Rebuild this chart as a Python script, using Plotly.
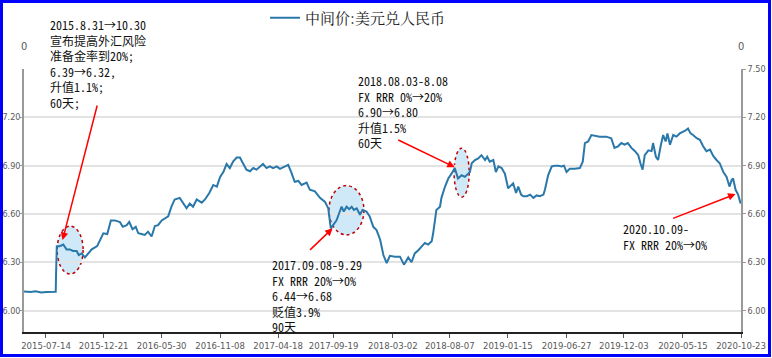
import plotly.graph_objects as go

# ---- data ----
dates = [
"2015-05-14","2015-06-01","2015-06-15","2015-07-01","2015-07-15","2015-08-01","2015-08-10","2015-08-11","2015-08-12","2015-08-13",
"2015-08-21","2015-08-31","2015-09-09","2015-09-18","2015-09-27","2015-10-07","2015-10-13","2015-10-21","2015-10-30","2015-11-08",
"2015-11-18","2015-12-03","2015-12-11","2015-12-20","2015-12-31","2016-01-10","2016-01-21","2016-02-04","2016-02-12","2016-02-23",
"2016-03-01","2016-03-10","2016-03-19","2016-03-26","2016-04-04","2016-04-13","2016-04-22","2016-05-02","2016-05-11","2016-05-20",
"2016-05-30","2016-06-08","2016-06-17","2016-06-26","2016-07-05","2016-07-19","2016-07-30","2016-08-07","2016-08-16","2016-08-25",
"2016-09-04","2016-09-18","2016-09-27","2016-10-09","2016-10-20","2016-10-30","2016-11-08","2016-11-17","2016-11-26","2016-12-05",
"2016-12-14","2016-12-24","2017-01-02","2017-01-11","2017-01-20","2017-01-30","2017-02-08","2017-02-17","2017-02-26","2017-03-07",
"2017-03-17","2017-03-26","2017-04-04","2017-04-14","2017-04-23","2017-05-07","2017-05-16","2017-05-25","2017-06-03","2017-06-13",
"2017-06-22","2017-07-06","2017-07-15","2017-07-29","2017-08-12","2017-08-26","2017-09-04","2017-09-11","2017-09-17","2017-09-27",
"2017-10-06","2017-10-11","2017-10-17","2017-10-25","2017-11-01","2017-11-08","2017-11-14","2017-11-22","2017-12-01","2017-12-08",
"2017-12-19","2017-12-28","2018-01-07","2018-01-16","2018-01-26","2018-02-04","2018-02-13","2018-02-22","2018-03-08","2018-03-22",
"2018-04-02","2018-04-14","2018-04-23","2018-05-02","2018-05-12","2018-05-21","2018-05-30","2018-06-08","2018-06-18","2018-06-22",
"2018-07-01","2018-07-11","2018-07-15","2018-07-25","2018-08-03","2018-08-12","2018-08-21","2018-08-30","2018-09-09","2018-09-18",
"2018-09-27","2018-10-02","2018-10-07","2018-10-16","2018-10-25","2018-11-03","2018-11-13","2018-11-19","2018-11-26","2018-12-06",
"2018-12-13","2018-12-20","2018-12-29","2019-01-07","2019-01-16","2019-01-26","2019-01-30","2019-02-07","2019-02-13","2019-02-21",
"2019-02-27","2019-03-09","2019-03-18","2019-03-27","2019-04-05","2019-04-14","2019-04-24","2019-04-28","2019-05-07","2019-05-17",
"2019-05-26","2019-06-04","2019-06-13","2019-06-20","2019-06-27","2019-07-06","2019-07-20","2019-08-03","2019-08-11","2019-08-17",
"2019-08-26","2019-09-04","2019-09-13","2019-09-27","2019-10-15","2019-10-29","2019-11-07","2019-11-17","2019-11-26","2019-12-05",
"2019-12-14","2019-12-24","2020-01-03","2020-01-12","2020-01-18","2020-01-24","2020-01-30","2020-02-09","2020-02-18","2020-02-22",
"2020-03-01","2020-03-07","2020-03-14","2020-03-21","2020-03-28","2020-04-02","2020-04-09","2020-04-18","2020-04-27","2020-05-06",
"2020-05-20","2020-05-29","2020-06-05","2020-06-12","2020-06-22","2020-07-01","2020-07-10","2020-07-19","2020-07-29","2020-08-07",
"2020-08-16","2020-08-25","2020-09-04","2020-09-13","2020-09-21","2020-09-27","2020-10-01","2020-10-08","2020-10-15","2020-10-22",
]
usdcny = [
6.118,6.115,6.120,6.112,6.116,6.115,6.117,6.230,6.330,6.400,
6.400,6.410,6.380,6.380,6.370,6.370,6.345,6.355,6.330,6.355,
6.380,6.400,6.440,6.480,6.475,6.560,6.560,6.550,6.520,6.530,
6.550,6.505,6.520,6.480,6.475,6.470,6.490,6.460,6.525,6.530,
6.560,6.570,6.585,6.645,6.690,6.700,6.665,6.635,6.665,6.645,
6.690,6.670,6.690,6.730,6.780,6.770,6.830,6.860,6.910,6.885,
6.925,6.950,6.950,6.915,6.875,6.865,6.885,6.875,6.895,6.910,
6.885,6.895,6.885,6.895,6.880,6.895,6.905,6.855,6.800,6.805,
6.780,6.795,6.750,6.740,6.700,6.675,6.635,6.510,6.530,6.560,
6.615,6.645,6.615,6.645,6.630,6.645,6.625,6.635,6.595,6.625,
6.615,6.585,6.520,6.500,6.440,6.345,6.295,6.340,6.335,6.335,
6.285,6.330,6.300,6.355,6.375,6.395,6.420,6.410,6.430,6.480,
6.625,6.645,6.700,6.770,6.820,6.850,6.885,6.820,6.840,6.830,
6.850,6.860,6.915,6.935,6.945,6.965,6.935,6.955,6.925,6.935,
6.860,6.895,6.885,6.850,6.760,6.780,6.790,6.730,6.770,6.720,
6.710,6.710,6.720,6.700,6.715,6.710,6.720,6.750,6.840,6.895,
6.900,6.900,6.895,6.900,6.860,6.880,6.880,6.885,6.925,7.040,
7.050,7.090,7.085,7.080,7.080,7.070,7.010,7.020,7.040,7.030,
7.040,7.010,6.990,6.965,6.915,6.875,6.965,6.995,6.990,7.040,
6.955,6.935,7.020,7.090,7.050,7.100,7.030,7.090,7.080,7.100,
7.115,7.130,7.100,7.090,7.070,7.060,7.020,6.990,7.000,6.960,
6.935,6.915,6.860,6.830,6.770,6.810,6.820,6.750,6.720,6.665,
]
series_name = "中间价:美元兑人民币"
x_ticks = ["2015-07-14","2015-12-21","2016-05-30","2016-11-08","2017-04-18","2017-09-19",
           "2018-03-02","2018-08-07","2019-01-15","2019-06-27","2019-12-03","2020-05-15","2020-10-23"]
y_ticks_left = [6.00, 6.30, 6.60, 6.90, 7.20]
y_ticks_right = [6.00, 6.30, 6.60, 6.90, 7.20, 7.50]

note1 = ["2015.8.31→10.30", "宣布提高外汇风险", "准备金率到20%;", "6.39→6.32,", "升值1.1%;", "60天;"]
note2 = ["2018.08.03-8.08", "FX RRR 0%→20%", "6.90→6.80", "升值1.5%", "60天"]
note3 = ["2017.09.08-9.29", "FX RRR 20%→0%", "6.44→6.68", "贬值3.9%", "90天"]
note4 = ["2020.10.09-", "FX RRR 20%→0%"]

# ---- figure ----
W, H = 772, 358
L, R, T, B = 24, 31, 69, 26
pw, ph = W - L - R, H - T - B
def px(x):
    return (x - L) / pw
def py(y):
    return (H - B - y) / ph

LINE = "#2a78aa"
AXFONT = dict(family="Liberation Sans Narrow, DejaVu Sans Condensed, Liberation Sans, sans-serif", size=9.5, color="#595959")
YFONT = dict(family=AXFONT["family"], size=9, color="#595959")
NOTEFONT = dict(family="Noto Sans Mono CJK SC, Noto Sans CJK SC, monospace", size=12, color="#111111")
YR = [5.867, 7.50]

fig = go.Figure()
fig.add_trace(go.Scatter(x=dates, y=usdcny, mode="lines", name=series_name,
                         line=dict(color=LINE, width=2), yaxis="y"))
fig.add_trace(go.Scatter(x=dates, y=usdcny, mode="lines", showlegend=False, hoverinfo="skip",
                         line=dict(color="rgba(0,0,0,0)", width=0), yaxis="y2"))

shapes = []
# highlight ellipses
for x0, x1, y0, y1 in [("2015-08-14", "2015-10-25", 6.227, 6.525),
                       ("2017-09-06", "2017-12-12", 6.470, 6.776),
                       ("2018-08-19", "2018-09-30", 6.704, 7.008)]:
    shapes.append(dict(type="circle", xref="x", yref="y", x0=x0, x1=x1, y0=y0, y1=y1,
                       fillcolor="#cfe9f9", line=dict(color="#c00000", width=1.5, dash="dot"),
                       layer="below"))
# blue frame
shapes.append(dict(type="rect", xref="paper", yref="paper",
                   x0=px(1.5), x1=px(769.5), y0=py(355.5), y1=py(1.5),
                   line=dict(color="#0000ff", width=3), fillcolor="rgba(0,0,0,0)", layer="above"))

ann = []
def note(lines, xpix, ytop):
    ann.append(dict(xref="paper", yref="paper", x=px(xpix), y=py(ytop), xanchor="left", yanchor="top",
                    text="<br>".join(lines), showarrow=False, align="left", font=NOTEFONT))
note(note1, 48, 14)
note(note2, 356, 70)
note(note3, 270, 254)
note(note4, 621, 218)

def arrow(xh, yh, ax, ay):
    ann.append(dict(xref="x", yref="y", x=xh, y=yh, ax=ax, ay=ay, text="", showarrow=True,
                    arrowhead=2, arrowsize=1, arrowwidth=1.5, arrowcolor="#ff0000"))
arrow("2015-08-29", 6.438, 35, -136)
arrow("2017-09-16", 6.511, -24, 23)
arrow("2018-08-21", 6.890, -58, -28)
arrow("2020-10-08", 6.724, -64, 25)

for xp in (0, 1):
    ann.append(dict(xref="paper", yref="paper", x=xp, y=py(46.7), text="0", showarrow=False,
                    xanchor="center", yanchor="middle",
                    font=dict(family=AXFONT["family"], size=11, color="#595959")))

fig.update_layout(
    width=W, height=H,
    margin=dict(l=L, r=R, t=T, b=B, autoexpand=False),
    paper_bgcolor="white", plot_bgcolor="white",
    showlegend=True,
    legend=dict(orientation="h", x=px(265), y=py(18), xanchor="left", yanchor="middle",
                font=dict(family="Noto Serif CJK SC, Noto Sans CJK SC, sans-serif", size=15, color="#222222"),
                bgcolor="rgba(0,0,0,0)"),
    xaxis=dict(type="date", range=["2015-05-14", "2020-10-23"], tickmode="array",
               tickvals=x_ticks, ticktext=x_ticks, showgrid=False, showline=True,
               linecolor="#222222", linewidth=2, ticks="outside", ticklen=4, tickcolor="#555555",
               tickfont=AXFONT, zeroline=False, tickangle=0, automargin=False),
    yaxis=dict(range=YR, tickmode="array", tickvals=y_ticks_left,
               ticktext=[f"{v:.2f}" for v in y_ticks_left], showgrid=True, gridcolor="#e3e3e3",
               gridwidth=1.5, showline=True, linecolor="#999999", linewidth=1.5, ticks="outside",
               ticklen=2, tickcolor="#999999", tickfont=YFONT, zeroline=False, automargin=False,
               ticklabelstandoff=-2),
    yaxis2=dict(range=YR, overlaying="y", side="right", tickmode="array", tickvals=y_ticks_right,
                ticktext=[f"{v:.2f}" for v in y_ticks_right], showgrid=False, showline=True,
                linecolor="#999999", linewidth=1.5, ticks="outside", ticklen=3, tickcolor="#999999",
                tickfont=YFONT, zeroline=False, automargin=False),
    shapes=shapes, annotations=ann,
)

fig.write_html("out.html", config={"displayModeBar": False},
               post_script="document.body.style.margin='0';document.body.style.overflow='hidden';")
